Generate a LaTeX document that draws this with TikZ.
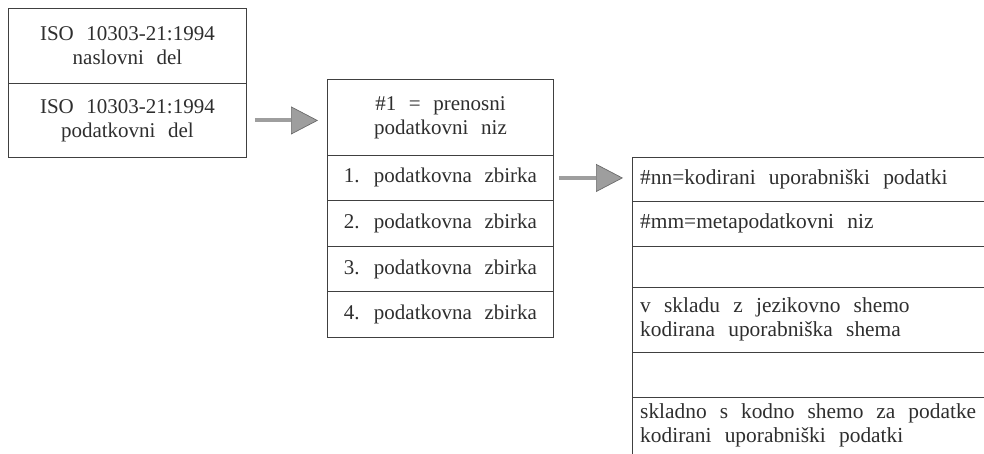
\documentclass[tikz,border=0pt]{standalone}
\usepackage{fontspec}
\setmainfont{Liberation Serif}
\usetikzlibrary{arrows.meta}
\definecolor{txtc}{gray}{0.18}
\definecolor{linec}{gray}{0.25}
\definecolor{arrf}{gray}{0.62}
\definecolor{arrd}{gray}{0.42}
\newcommand{\cellfont}{\fontsize{21}{24}\selectfont\spaceskip=0.6em plus 0.1em minus 0.05em\relax}
\newcommand{\widespaces}{\spaceskip=0.62em plus 0.1em minus 0.05em\relax}
\tikzset{
  cellbox/.style={draw=linec, line width=0.9pt, inner sep=0pt, anchor=north west,
    align=center, font=\cellfont, text=txtc},
  opencell/.style={inner xsep=8pt, inner ysep=0pt, anchor=north west, text width=336pt,
    align=left, font=\fontsize{21.4}{24}\selectfont, text=txtc,
    execute at begin node=\widespaces},
  rule/.style={draw=linec, line width=0.9pt},
  bigarrow/.style={draw=arrf, line width=4pt,
    -{Triangle[length=27pt, width=28pt, line width=0.7pt, fill=arrf, color=arrd]}}
}
\begin{document}
\begin{tikzpicture}[x=1pt, y=1pt]
\useasboundingbox (0,0) rectangle (984,-454);
% box 1
\node[cellbox, minimum width=238pt, minimum height=75pt] (a1) at (8,-8) {ISO 10303-21:1994\\naslovni del};
\node[cellbox, minimum width=238pt, minimum height=74pt] (a2) at (8,-83) {ISO 10303-21:1994\\podatkovni del};
% box 2
\node[cellbox, minimum width=226pt, minimum height=76pt] (b1) at (327,-79) {\#1 = prenosni\\podatkovni niz};
\node[cellbox, minimum width=226pt, minimum height=45pt] (b2) at (327,-155) {1. podatkovna zbirka};
\node[cellbox, minimum width=226pt, minimum height=46pt] (b3) at (327,-200) {2. podatkovna zbirka};
\node[cellbox, minimum width=226pt, minimum height=45pt] (b4) at (327,-246) {3. podatkovna zbirka};
\node[cellbox, minimum width=226pt, minimum height=46pt] (b5) at (327,-291) {4. podatkovna zbirka};
% box 3 (open to the right and bottom)
\node[opencell, minimum height=44pt] (c1) at (632,-157) {\#nn=kodirani uporabniški podatki};
\node[opencell, minimum height=45pt] (c2) at (632,-201) {\#mm=metapodatkovni niz};
\node[opencell, minimum height=41pt] (c3) at (632,-246) {};
\node[opencell, minimum height=65pt] (c4) at (632,-287) {v skladu z jezikovno shemo\\kodirana uporabniška shema};
\node[opencell, minimum height=45pt] (c5) at (632,-352) {};
\node[opencell, minimum height=57pt] (c6) at (632,-397) {skladno s kodno shemo za podatke\\kodirani uporabniški podatki};
\draw[rule] (c6.south west) -- (c1.north west) -- (c1.north east);
\foreach \c in {c1,c2,c3,c4,c5}{
  \draw[rule] (\c.south west) -- (\c.south east);
}
% arrows
\draw[bigarrow, shorten <=8pt, shorten >=9pt] (a2.east) -- (a2.east -| b1.west);
\draw[bigarrow, shorten <=5pt, shorten >=9pt] (b2.east) -- (b2.east -| c1.west);
\end{tikzpicture}
\end{document}
